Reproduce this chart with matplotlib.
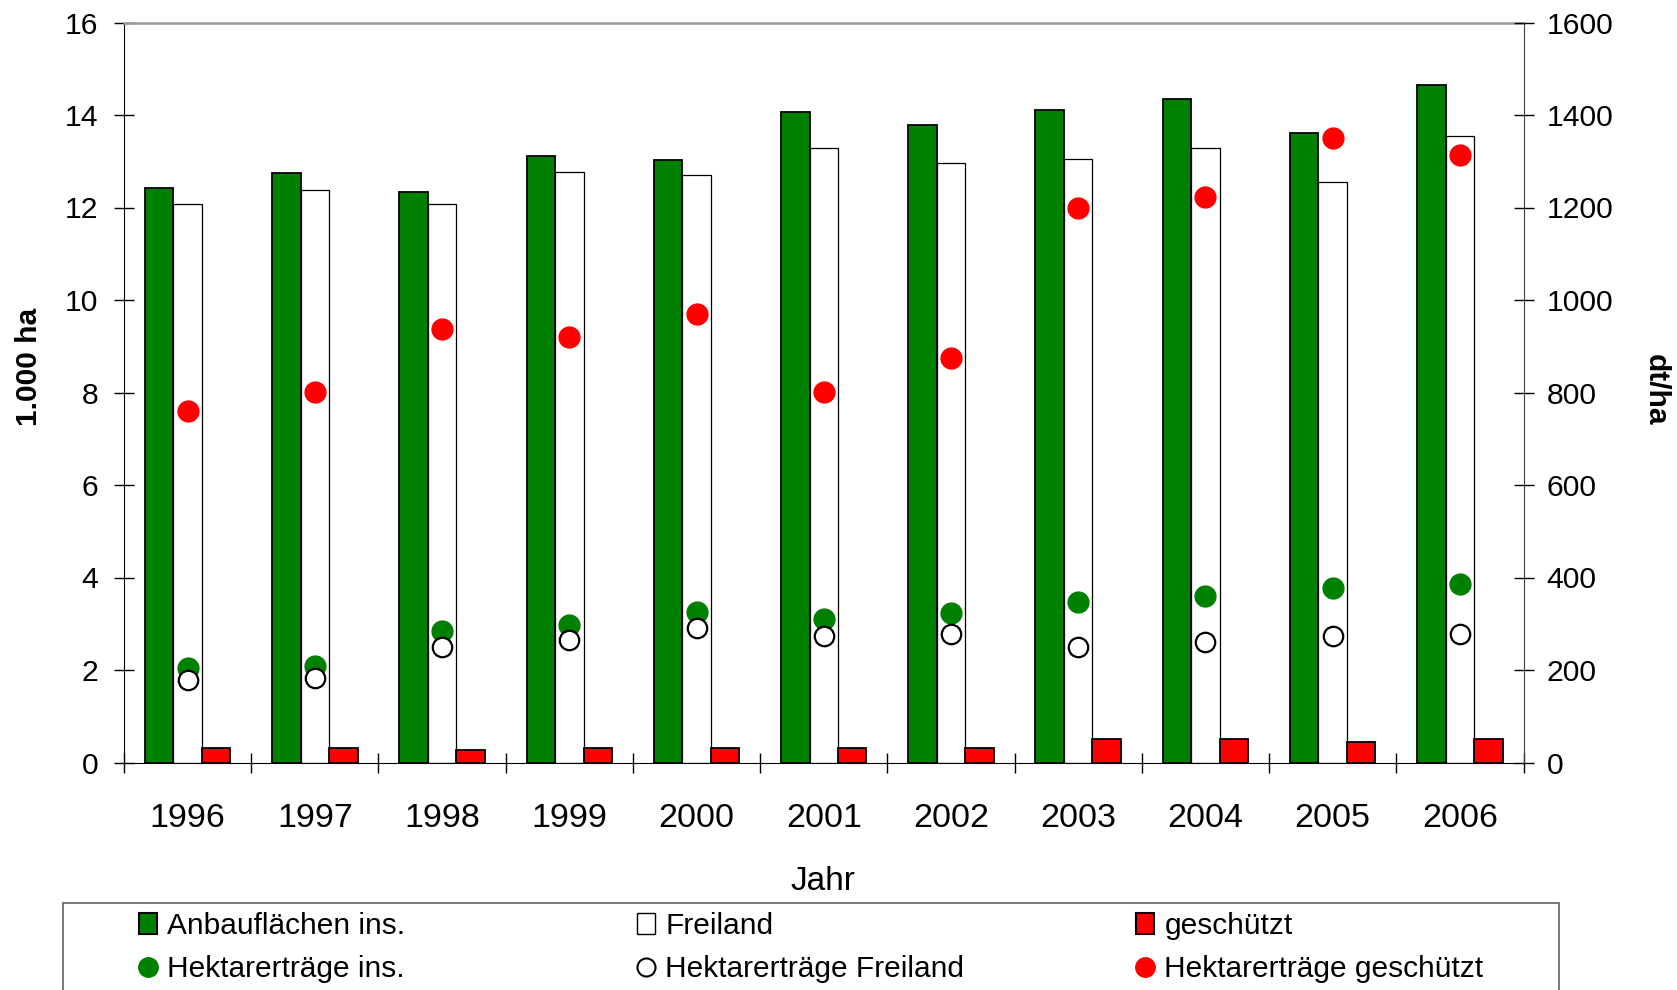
import matplotlib
matplotlib.use('Agg')
import matplotlib.pyplot as plt
import numpy as np
from matplotlib.patches import Patch, Rectangle
from matplotlib.lines import Line2D

plt.rcParams['font.family'] = ['Liberation Sans', 'DejaVu Sans']

years = ['1996', '1997', '1998', '1999', '2000', '2001', '2002', '2003', '2004', '2005', '2006']

# 1.000 ha (left axis)
anbau = [12.43, 12.75, 12.34, 13.12, 13.02, 14.06, 13.79, 14.11, 14.34, 13.61, 14.65]
freiland = [12.07, 12.38, 12.07, 12.77, 12.70, 13.28, 12.97, 13.05, 13.28, 12.56, 13.55]
geschuetzt = [0.32, 0.32, 0.28, 0.32, 0.32, 0.32, 0.32, 0.50, 0.50, 0.45, 0.50]

# dt/ha (right axis)
ertrag_ins = [204, 208, 284, 297, 325, 310, 323, 346, 359, 377, 387]
ertrag_frei = [178, 183, 250, 265, 291, 273, 278, 250, 260, 273, 278]
ertrag_gesch = [761, 802, 937, 919, 970, 802, 875, 1200, 1223, 1350, 1313]

W, H = 1677, 990
fig = plt.figure(figsize=(W / 100, H / 100), dpi=100)
ax = fig.add_axes([124 / W, 1 - 762.5 / H, (1523.5 - 124) / W, (762.5 - 22.5) / H])

green = '#008000'
red = '#ff0000'
x = np.arange(len(years))
bw = 0.224
ax.bar(x - bw, anbau, bw, color=green, edgecolor='black', linewidth=1.3)
ax.bar(x, freiland, bw, color='white', edgecolor='black', linewidth=0.9)
ax.bar(x + bw, geschuetzt, bw, color=red, edgecolor='black', linewidth=1.3)

ax.set_xlim(-0.5, len(years) - 0.5)
ax.set_ylim(0, 16)
ax.set_yticks(range(0, 17, 2))
ax.set_xticks(x, years)
ax.set_xticks(np.arange(-0.5, len(years)), minor=True)
ax.tick_params(axis='x', which='major', length=0, labelsize=24.5, pad=29)
ax.tick_params(axis='x', which='minor', direction='inout', length=15, width=1)
ax.tick_params(axis='y', direction='inout', length=15, width=1, labelsize=21.7, pad=11)
ax.spines['top'].set_color('#9a9a9a')
ax.spines['top'].set_linewidth(1.8)
ax.spines['right'].set_visible(False)

ax2 = ax.twinx()
ax2.plot(x, ertrag_ins, 'o', ms=15, color=green, ls='none')
ax2.plot(x, ertrag_frei, 'o', ms=14, mfc='white', mec='black', mew=1.6, ls='none')
ax2.plot(x, ertrag_gesch, 'o', ms=15, color=red, ls='none')
ax2.set_ylim(0, 1600)
ax2.set_yticks(range(0, 1601, 200))
ax2.tick_params(axis='y', direction='inout', length=15, width=1, labelsize=21.7, pad=9)
for s in ['left', 'top', 'bottom']:
    ax2.spines[s].set_visible(False)
ax2.spines['right'].set_color('#404040')

fig.text(29 / W, 1 - 367 / H, '1.000 ha', rotation=90, fontweight='bold', size=21.5,
         ha='center', va='center')
fig.text(1656 / W, 1 - 390 / H, 'dt/ha', rotation=270, fontweight='bold', size=21.5,
         ha='center', va='center')
fig.text(823 / W, 1 - 881 / H, 'Jahr', size=24, ha='center', va='center')

# legend
fig.add_artist(Rectangle((62.5 / W, -0.1), (1559 - 62.5) / W, 0.1 + (990 - 902.5) / H,
                         transform=fig.transFigure, fill=False, ec='#606060', lw=1.2))
cols = [
    ([Patch(fc=green, ec='black', lw=1.5),
      Line2D([], [], marker='o', ls='none', ms=14, color=green)],
     ['Anbauflächen ins.', 'Hektarerträge ins.'], 139),
    ([Patch(fc='white', ec='black', lw=1.0),
      Line2D([], [], marker='o', ls='none', ms=13, mfc='white', mec='black', mew=1.5)],
     ['Freiland', 'Hektarerträge Freiland'], 637),
    ([Patch(fc=red, ec='black', lw=1.5),
      Line2D([], [], marker='o', ls='none', ms=14, color=red)],
     ['geschützt', 'Hektarerträge geschützt'], 1136),
]
for handles, labels, x0 in cols:
    fig.legend(handles, labels, loc='center left', bbox_to_anchor=(x0 / W, 1 - 947.5 / H),
               frameon=False, fontsize=21.5, handlelength=0.6, handleheight=0.7,
               handletextpad=0.35, borderpad=0, borderaxespad=0, labelspacing=0.52)

fig.savefig('out.png', dpi=100)
